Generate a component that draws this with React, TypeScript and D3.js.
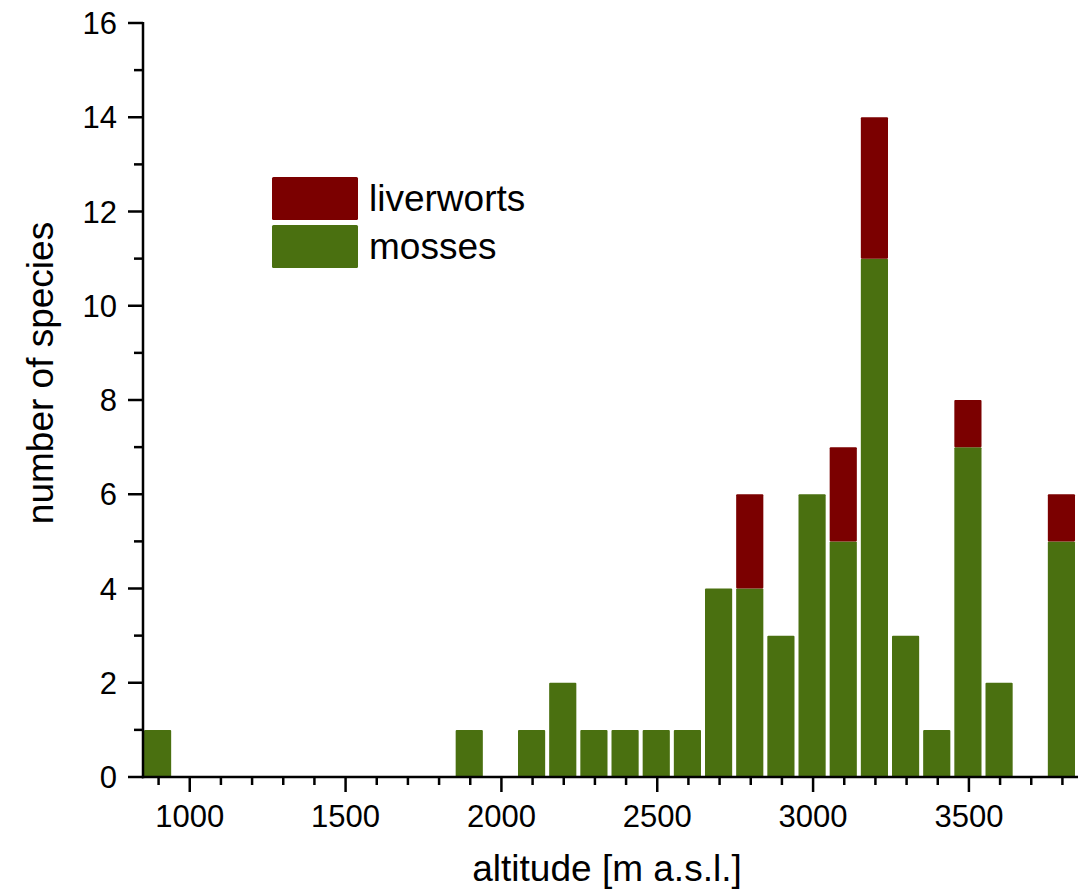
import React, { useRef, useEffect } from 'react';
import * as d3 from 'd3';

// altitude classes (m a.s.l.), bar centres
const altitudes = [900, 1900, 2100, 2200, 2300, 2400, 2500, 2600, 2700, 2800, 2900, 3000, 3100, 3200, 3300, 3400, 3500, 3600, 3800];
const mosses = [1, 1, 1, 2, 1, 1, 1, 1, 4, 4, 3, 6, 5, 11, 3, 1, 7, 2, 5];
const liverworts = [0, 0, 0, 0, 0, 0, 0, 0, 0, 2, 0, 0, 2, 3, 0, 0, 1, 0, 1];
const seriesNames = ['mosses', 'liverworts'];
const xTicks = [1000, 1500, 2000, 2500, 3000, 3500];
const yTicks = [0, 2, 4, 6, 8, 10, 12, 14, 16];

const COLORS: Record<string, string> = { mosses: '#4a7010', liverworts: '#7b0000' };
const FONT = '"Liberation Sans", Arial, sans-serif';

const App = () => {
  const svgRef = useRef<SVGSVGElement | null>(null);

  useEffect(() => {
    if (!svgRef.current) return;
    const svg = d3.select(svgRef.current);
    svg.selectAll('*').remove();

    const left = 143, right = 1078, top = 23, bottom = 777;

    const x = d3.scaleLinear().domain([850, 3850]).range([left, right]);
    const y = d3.scaleLinear().domain([0, 16]).range([bottom, top]);

    // stacked data
    const rows = altitudes.map((a, i) => ({ altitude: a, mosses: mosses[i], liverworts: liverworts[i] }));
    const stacked = d3.stack<any>().keys(seriesNames)(rows);

    const bars = svg.append('g');
    stacked.forEach(layer => {
      bars.selectAll(null)
        .data(layer.filter(d => d[1] > d[0]))
        .enter()
        .append('rect')
        .attr('x', d => x(d.data.altitude - 50) + 1)
        .attr('width', d => x(d.data.altitude + 50) - x(d.data.altitude - 50) - 4)
        .attr('y', d => y(d[1]))
        .attr('height', d => y(d[0]) - y(d[1]))
        .attr('rx', 1)
        .attr('fill', COLORS[layer.key]);
    });

    // axes
    const axes = svg.append('g').attr('stroke', '#000').attr('stroke-width', 2.5).attr('fill', 'none');
    axes.append('line').attr('x1', left).attr('x2', left).attr('y1', top - 1).attr('y2', bottom + 1.2);
    axes.append('line').attr('x1', left - 1.2).attr('x2', right).attr('y1', bottom).attr('y2', bottom);

    // y ticks (major even, minor odd)
    d3.range(0, 17).forEach(v => {
      const len = v % 2 === 0 ? 15 : 9;
      axes.append('line').attr('x1', left - len).attr('x2', left).attr('y1', y(v)).attr('y2', y(v));
    });
    // x ticks (major every 500, minor every 100)
    d3.range(900, 3850, 100).forEach(v => {
      const len = v % 500 === 0 ? 15 : 8;
      axes.append('line').attr('x1', x(v)).attr('x2', x(v)).attr('y1', bottom).attr('y2', bottom + len);
    });

    const labels = svg.append('g').attr('font-family', FONT).attr('fill', '#000');
    labels.selectAll('.ytick')
      .data(yTicks)
      .enter()
      .append('text')
      .attr('x', left - 26)
      .attr('y', d => y(d))
      .attr('dy', '0.36em')
      .attr('text-anchor', 'end')
      .attr('font-size', 31)
      .text(d => d);
    labels.selectAll('.xtick')
      .data(xTicks)
      .enter()
      .append('text')
      .attr('x', d => x(d))
      .attr('y', 827)
      .attr('text-anchor', 'middle')
      .attr('font-size', 31)
      .text(d => d);

    labels.append('text')
      .attr('x', 607)
      .attr('y', 881)
      .attr('text-anchor', 'middle')
      .attr('font-size', 37)
      .text('altitude [m a.s.l.]');
    labels.append('text')
      .attr('transform', 'translate(53, 373) rotate(-90)')
      .attr('text-anchor', 'middle')
      .attr('font-size', 37)
      .text('number of species');

    // legend
    const legend = svg.append('g').attr('font-family', FONT);
    const legendItems = ['liverworts', 'mosses'];
    legendItems.forEach((name, i) => {
      const ly = 177 + i * 48;
      legend.append('rect')
        .attr('x', 272).attr('y', ly)
        .attr('width', 86).attr('height', 43)
        .attr('rx', 1.5)
        .attr('fill', COLORS[name]);
      legend.append('text')
        .attr('x', 369).attr('y', ly + 34)
        .attr('font-size', 37)
        .attr('fill', '#000')
        .text(name);
    });
  }, []);

  return (
    <svg
      ref={svgRef}
      width={1086}
      height={892}
      style={{ position: 'absolute', left: 0, top: 0, background: '#fff' }}
    />
  );
};

export default App;
